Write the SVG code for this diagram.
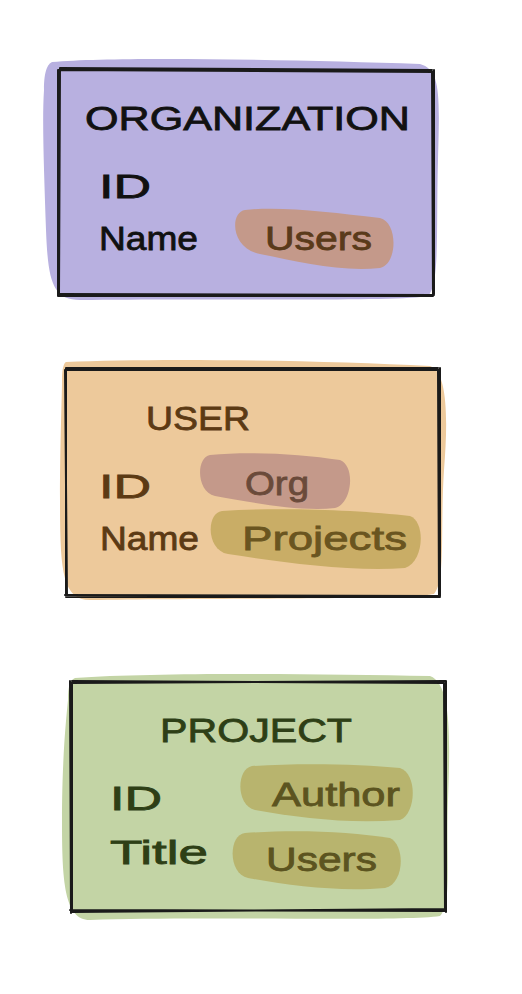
<svg xmlns="http://www.w3.org/2000/svg" width="522" height="994" viewBox="0 0 522 994">
<style>
.frame{fill:none;stroke:#1a1a1a;stroke-width:2;stroke-linecap:round}
.t{font-family:"Liberation Sans","DejaVu Sans",sans-serif;font-size:34px}
.title{font-family:"Liberation Sans","DejaVu Sans",sans-serif;font-size:34px}
</style>
<rect width="522" height="994" fill="#ffffff"/>
<g id="organization">
<path d="M52 62 C120 56 300 60 420 64 C440 70 440 90 438 160 C436 230 440 284 428 296 C400 302 200 298 80 300 C52 300 48 280 46 230 C44 170 42 120 44 90 C44 70 48 64 52 62 Z" fill="#b8b0e0"/>
<path class="frame" d="M58 70 L434 72 M60 68 L432 70 M434 70 L434 294 M432 72 L433 296 M58 296 L432 296 M60 294 L434 295 M58 70 L58 296 M60 68 L59 294"/>
<path d="M245 210 C280 206 330 212 380 218 C398 222 398 264 380 268 C340 272 300 262 260 254 C230 248 230 212 245 210 Z" fill="#c4998a"/>
<text class="title" x="85" y="130" fill="#111" textLength="325" lengthAdjust="spacingAndGlyphs" stroke="#111" stroke-width="0.8">ORGANIZATION</text>
<text class="t" x="99" y="198" fill="#111" textLength="52" lengthAdjust="spacingAndGlyphs" stroke="#111" stroke-width="0.8">ID</text>
<text class="t" x="99" y="250" fill="#111" textLength="99" lengthAdjust="spacingAndGlyphs" stroke="#111" stroke-width="0.8">Name</text>
<text class="t" x="265" y="250" fill="#5a3a1a" textLength="107" lengthAdjust="spacingAndGlyphs" stroke="#5a3a1a" stroke-width="0.8">Users</text>
</g>
<g id="user">
<path d="M66 362 C150 358 320 360 430 366 C448 372 448 420 444 470 C440 530 446 580 434 594 C400 600 200 598 90 600 C62 600 60 570 60 500 C60 440 62 400 62 380 C62 368 64 363 66 362 Z" fill="#edc99b"/>
<path class="frame" d="M65 370 L440 370 M66 368 L438 368 M440 368 L440 596 M438 370 L439 597 M66 597 L440 597 M65 595 L438 596 M65 370 L67 597 M66 368 L66 595"/>
<path d="M210 455 C250 451 300 454 340 460 C356 466 352 504 335 508 C300 512 250 502 215 496 C196 492 196 457 210 455 Z" fill="#c4998a"/>
<path d="M222 511 C280 507 360 510 410 516 C426 522 424 562 405 568 C350 572 280 562 228 554 C206 550 206 513 222 511 Z" fill="#c9ad66"/>
<text class="title" x="146" y="430" fill="#5c3a14" textLength="104" lengthAdjust="spacingAndGlyphs" stroke="#5c3a14" stroke-width="0.8">USER</text>
<text class="t" x="99" y="498" fill="#5c3a14" textLength="52" lengthAdjust="spacingAndGlyphs" stroke="#5c3a14" stroke-width="0.8">ID</text>
<text class="t" x="100" y="550" fill="#5c3a14" textLength="99" lengthAdjust="spacingAndGlyphs" stroke="#5c3a14" stroke-width="0.8">Name</text>
<text class="t" x="245" y="495" fill="#6a4a3a" textLength="64" lengthAdjust="spacingAndGlyphs" stroke="#6a4a3a" stroke-width="0.8">Org</text>
<text class="t" x="242" y="550" fill="#6a5520" textLength="165" lengthAdjust="spacingAndGlyphs" stroke="#6a5520" stroke-width="0.8">Projects</text>
</g>
<g id="project">
<path d="M75 678 C160 672 320 674 430 676 C452 684 450 740 448 800 C446 860 452 904 440 916 C400 922 200 916 90 920 C64 920 62 880 62 820 C62 760 66 720 68 700 C68 686 70 680 75 678 Z" fill="#c3d4a5"/>
<path class="frame" d="M70 683 L446 681 M72 681 L444 683 M446 681 L446 912 M444 683 L445 910 M70 910 L446 911 M72 912 L444 909 M70 681 L71 913 M72 683 L72 910"/>
<path d="M252 766 C300 763 360 764 400 768 C418 774 416 814 400 820 C350 824 300 818 255 810 C236 806 236 769 252 766 Z" fill="#b8b46e"/>
<path d="M245 833 C300 829 350 832 390 838 C406 846 404 884 385 888 C340 892 290 886 248 878 C228 874 228 835 245 833 Z" fill="#b8b46e"/>
<text class="title" x="160" y="742" fill="#2e3f16" textLength="192" lengthAdjust="spacingAndGlyphs" stroke="#2e3f16" stroke-width="0.8">PROJECT</text>
<text class="t" x="110" y="810" fill="#2e3f16" textLength="52" lengthAdjust="spacingAndGlyphs" stroke="#2e3f16" stroke-width="0.8">ID</text>
<text class="t" x="110" y="864" fill="#2e3f16" textLength="98" lengthAdjust="spacingAndGlyphs" stroke="#2e3f16" stroke-width="0.8">Title</text>
<text class="t" x="272" y="806" fill="#5c5420" textLength="128" lengthAdjust="spacingAndGlyphs" stroke="#5c5420" stroke-width="0.8">Author</text>
<text class="t" x="266" y="871" fill="#5c5420" textLength="111" lengthAdjust="spacingAndGlyphs" stroke="#5c5420" stroke-width="0.8">Users</text>
</g>
<g id="connectors"></g>
</svg>
